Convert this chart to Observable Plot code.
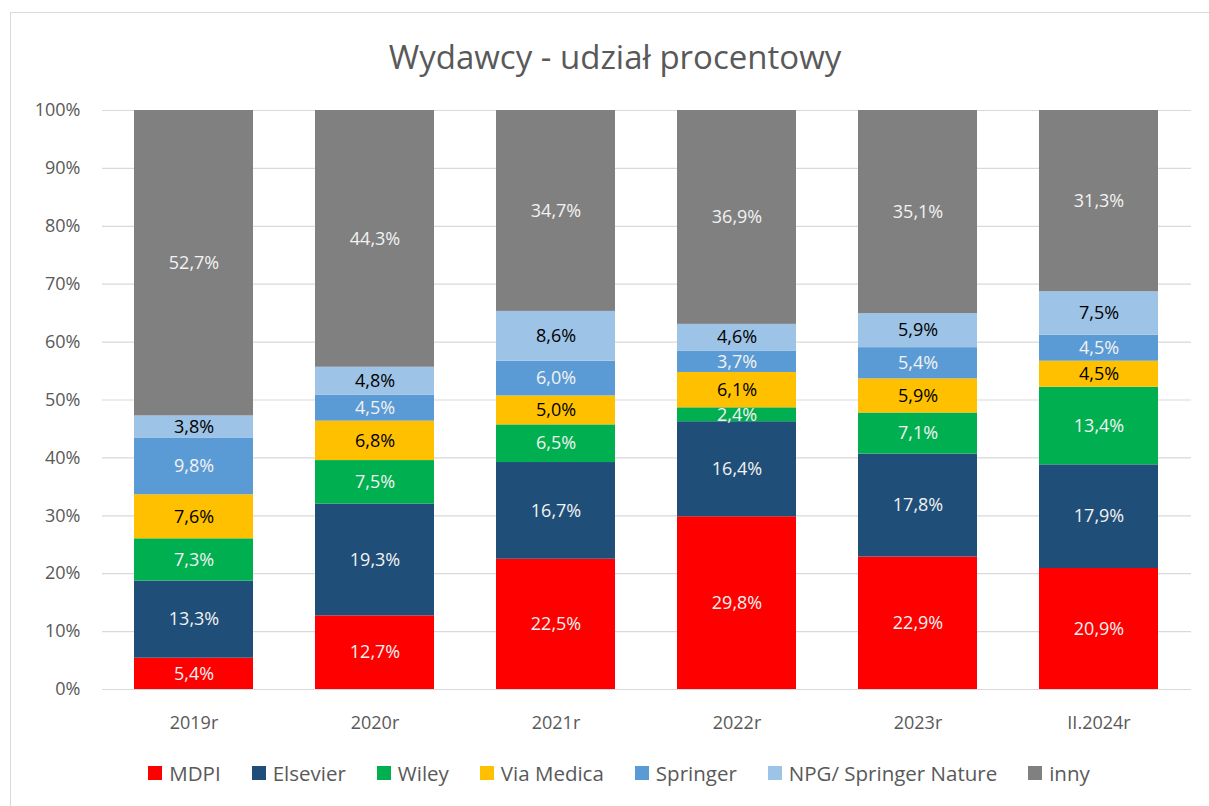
<!DOCTYPE html>
<html>
<head>
<meta charset="utf-8">
<script src="https://cdn.jsdelivr.net/npm/d3@7"></script>
<script src="https://cdn.jsdelivr.net/npm/@observablehq/plot@0.6"></script>
<style>
  html, body { margin: 0; padding: 0; background: #fff; }
  body { width: 1209px; height: 806px; position: relative; overflow: hidden; font-family: "Open Sans", sans-serif; }
  #frame { position: absolute; left: 10px; top: 12px; width: 1210px; height: 810px; border: 1px solid #d9d9d9; box-sizing: border-box; }
  #title { position: absolute; left: 0; width: 1230px; top: 35px; text-align: center; font-size: 33px; color: #595959; line-height: 44px; }
  #chart { position: absolute; left: 10px; top: 95px; }
  #legend { position: absolute; left: 0; width: 1238px; top: 759px; display: flex; justify-content: center; gap: 31px; font-size: 20.5px; color: #595959; line-height: 28px; }
  #legend .item { display: flex; align-items: center; gap: 7px; }
  #legend .sw { width: 14px; height: 14px; display: inline-block; }
</style>
</head>
<body>
<div id="frame"></div>
<div id="title">Wydawcy - udział procentowy</div>
<div id="chart"></div>
<div id="legend"></div>
<script>
const years = ["2019r", "2020r", "2021r", "2022r", "2023r", "II.2024r"];
const seriesNames = ["MDPI", "Elsevier", "Wiley", "Via Medica", "Springer", "NPG/ Springer Nature", "inny"];
const MDPI = [5.4, 12.7, 22.5, 29.8, 22.9, 20.9];
const Elsevier = [13.3, 19.3, 16.7, 16.4, 17.8, 17.9];
const Wiley = [7.3, 7.5, 6.5, 2.4, 7.1, 13.4];
const ViaMedica = [7.6, 6.8, 5.0, 6.1, 5.9, 4.5];
const Springer = [9.8, 4.5, 6.0, 3.7, 5.4, 4.5];
const NPG = [3.8, 4.8, 8.6, 4.6, 5.9, 7.5];
const inny = [52.7, 44.3, 34.7, 36.9, 35.1, 31.3];
const colors = ["#ff0000", "#1f4e79", "#00b050", "#ffc000", "#5b9bd5", "#9dc3e6", "#808080"];
const labelColors = ["#f2f2f2", "#f2f2f2", "#f2f2f2", "#000000", "#f2f2f2", "#000000", "#f2f2f2"];
const yTicks = [0, 0.1, 0.2, 0.3, 0.4, 0.5, 0.6, 0.7, 0.8, 0.9, 1.0];

const seriesValues = [MDPI, Elsevier, Wiley, ViaMedica, Springer, NPG, inny];
const data = [];
seriesNames.forEach((s, i) => {
  years.forEach((y, j) => {
    data.push({ year: y, series: s, value: seriesValues[i][j], labelColor: labelColors[i] });
  });
});

const fmt = v => v.toFixed(1).replace(".", ",") + "%";

const chart = Plot.plot({
  width: 1195,
  height: 639,
  marginLeft: 92,
  marginRight: 14,
  marginTop: 15,
  marginBottom: 45,
  style: { fontFamily: "'Open Sans', sans-serif", background: "transparent" },
  x: { domain: years, paddingInner: 0.34, paddingOuter: 0.17, label: null },
  y: { domain: [0, 1], label: null },
  color: { domain: seriesNames, range: colors },
  marks: [
    Plot.ruleY(yTicks, { stroke: "#d9d9d9", strokeWidth: 1.2 }),
    Plot.barY(data, Plot.stackY({ offset: "normalize" }, { x: "year", y: "value", z: "series", fill: "series" })),
    Plot.text(data, Plot.stackY({ offset: "normalize" }, {
      x: "year", y: "value", z: "series",
      text: d => fmt(d.value),
      fill: "labelColor",
      fontSize: 18
    })),
    Plot.axisY({ ticks: yTicks, tickFormat: d => Math.round(d * 100) + "%", tickSize: 0, tickPadding: 22, fontSize: 18, color: "#595959", label: null }),
    Plot.axisX({ tickSize: 0, tickPadding: 27, fontSize: 18, color: "#595959", label: null })
  ]
});
document.getElementById("chart").appendChild(chart);

const legend = document.getElementById("legend");
seriesNames.forEach((s, i) => {
  const item = document.createElement("div");
  item.className = "item";
  const sw = document.createElement("span");
  sw.className = "sw";
  sw.style.background = colors[i];
  const t = document.createElement("span");
  t.textContent = s;
  item.appendChild(sw);
  item.appendChild(t);
  legend.appendChild(item);
});
</script>
</body>
</html>
